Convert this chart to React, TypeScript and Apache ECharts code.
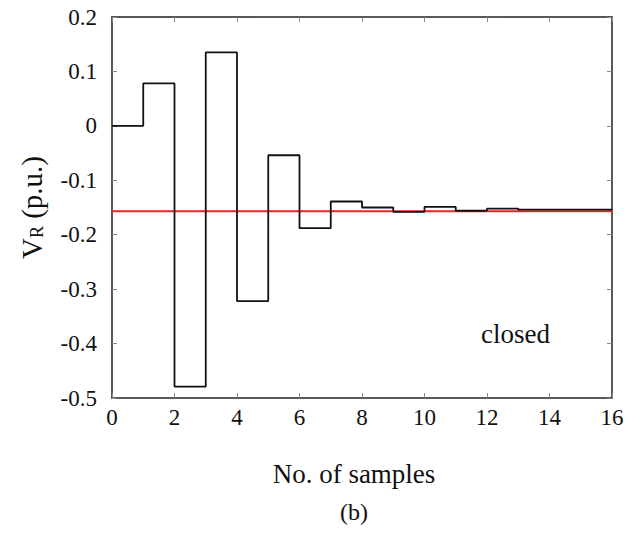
import React, { useEffect, useRef } from "react";
import * as echarts from "echarts";

const sampleIndex = [0, 1, 2, 3, 4, 5, 6, 7, 8, 9, 10, 11, 12, 13, 14, 15, 16];
const vrValues = [0, 0.078, -0.479, 0.135, -0.322, -0.054, -0.188, -0.139, -0.15, -0.158, -0.149, -0.156, -0.152, -0.154, -0.154, -0.154, -0.154];
const referenceLevel = -0.157;
const xTicks = [0, 2, 4, 6, 8, 10, 12, 14, 16];
const yTicks = [-0.5, -0.4, -0.3, -0.2, -0.1, 0, 0.1, 0.2];

const FONT = "Liberation Serif";

export default function App() {
  const ref = useRef<HTMLDivElement>(null);
  useEffect(() => {
    if (!ref.current) return;
    const chart = echarts.init(ref.current, undefined, { renderer: "svg" });
    const axisLine = { show: true, onZero: false, lineStyle: { color: "#222", width: 1.5 } };
    const tick = { show: true, inside: true, length: 5, lineStyle: { color: "#888", width: 1 } };
    const fmtY = (v: number) => {
      const r = Math.round(v * 10) / 10;
      return r === 0 ? "0" : String(r);
    };
    chart.setOption({
      animation: false,
      backgroundColor: "#fff",
      textStyle: { fontFamily: FONT },
      grid: { left: 112, top: 17, width: 500, height: 381, containLabel: false },
      xAxis: [
        {
          type: "value",
          min: xTicks[0],
          max: xTicks[xTicks.length - 1],
          interval: 2,
          position: "bottom",
          axisLine,
          axisTick: tick,
          splitLine: { show: false },
          axisLabel: { fontFamily: FONT, fontSize: 23, color: "#111", margin: 8 },
          name: "No. of samples",
          nameLocation: "middle",
          nameGap: 62,
          nameTextStyle: { fontFamily: FONT, fontSize: 27, color: "#111", padding: [0, 16, 0, 0] },
        },
        {
          type: "value",
          min: xTicks[0],
          max: xTicks[xTicks.length - 1],
          interval: 2,
          position: "top",
          axisLine,
          axisTick: tick,
          splitLine: { show: false },
          axisLabel: { show: false },
        },
      ],
      yAxis: [
        {
          type: "value",
          min: yTicks[0],
          max: yTicks[yTicks.length - 1],
          interval: 0.1,
          position: "left",
          axisLine,
          axisTick: tick,
          splitLine: { show: false },
          axisLabel: { fontFamily: FONT, fontSize: 23, color: "#111", margin: 15, formatter: fmtY },
          name: "{v|V}{s|R}{v| (p.u.)}",
          nameLocation: "middle",
          nameRotate: 90,
          nameGap: 66,
          nameTextStyle: {
            fontFamily: FONT,
            color: "#111",
            rich: {
              v: { fontFamily: FONT, fontSize: 29, color: "#111" },
              s: { fontFamily: FONT, fontSize: 18, color: "#111", verticalAlign: "bottom", padding: [11, 0, 0, 0] },
            },
          },
        },
        {
          type: "value",
          min: yTicks[0],
          max: yTicks[yTicks.length - 1],
          interval: 0.1,
          position: "right",
          axisLine,
          axisTick: tick,
          splitLine: { show: false },
          axisLabel: { show: false },
        },
      ],
      series: [
        {
          type: "line",
          step: "end",
          xAxisIndex: 0,
          yAxisIndex: 0,
          data: sampleIndex.map((x, i) => [x, vrValues[i]]),
          symbol: "none",
          lineStyle: { color: "#111", width: 1.8 },
          z: 3,
        },
        {
          type: "line",
          xAxisIndex: 0,
          yAxisIndex: 0,
          data: [
            [xTicks[0], referenceLevel],
            [xTicks[xTicks.length - 1], referenceLevel],
          ],
          symbol: "none",
          lineStyle: { color: "#ee2222", width: 2 },
          z: 2,
        },
      ],
      graphic: [
        {
          type: "text",
          left: 481,
          top: 320,
          style: { text: "closed", fontFamily: FONT, fontSize: 27, fill: "#111" },
        },
        {
          type: "text",
          left: 340,
          top: 500,
          style: { text: "(b)", fontFamily: FONT, fontSize: 24, fill: "#111" },
        },
      ],
    });
    return () => chart.dispose();
  }, []);
  return <div ref={ref} style={{ position: "absolute", left: 0, top: 0, width: 640, height: 538 }} />;
}
